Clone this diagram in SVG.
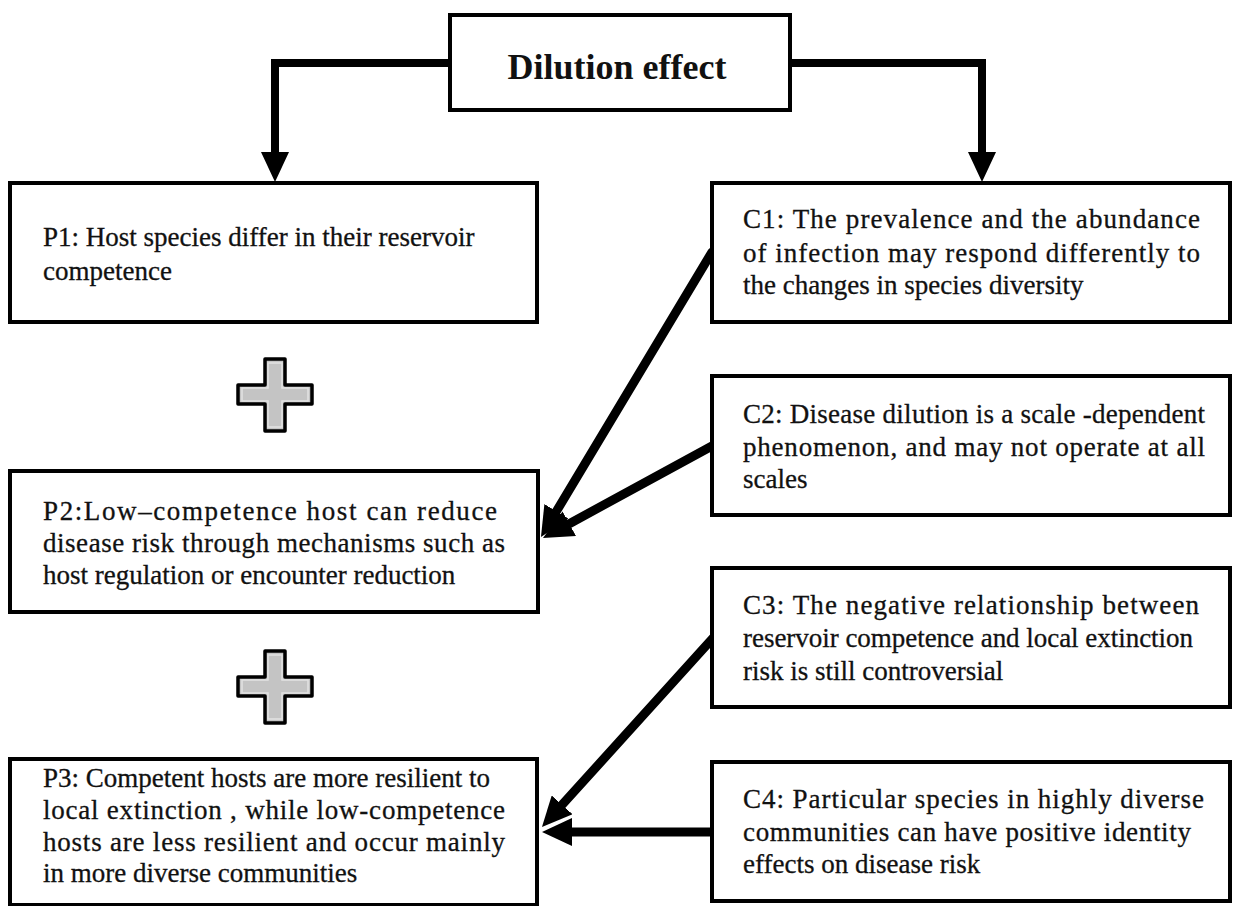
<svg xmlns="http://www.w3.org/2000/svg" width="1237" height="906" viewBox="0 0 1237 906">
<style>
.box{fill:#fff;stroke:#000;stroke-width:4}
.t{font-family:"Liberation Serif","Times New Roman",serif;font-size:27px;fill:#111;stroke:#111;stroke-width:0.3}
.title{font-family:"Liberation Serif","Times New Roman",serif;font-size:36px;font-weight:bold;fill:#111}
.conn{fill:none;stroke:#000;stroke-width:9;stroke-linecap:round;stroke-linejoin:miter}
.top{stroke-width:8}
.plus{fill:#c4c4c4;stroke:#000;stroke-width:3.5;stroke-linejoin:round}
.plusin{fill:none;stroke:#e2e2e2;stroke-width:1.5}
</style>
<defs>
<marker id="ah" viewBox="0 0 30 28" refX="0" refY="14" markerWidth="30" markerHeight="28" orient="auto" markerUnits="userSpaceOnUse">
<path d="M0,0 L30,14 L0,28 Z" fill="#000"/>
</marker>
</defs>
<rect width="1237" height="906" fill="#fff"/>
<g id="connectors">
<polyline class="conn top" points="450,63 275,63 275,152" marker-end="url(#ah)"/>
<polyline class="conn top" points="790,63 982,63 982,152" marker-end="url(#ah)"/>
<line class="conn" x1="712" y1="252" x2="556.4" y2="511.3" marker-end="url(#ah)"/>
<line class="conn" x1="712" y1="446" x2="569.3" y2="523.7" marker-end="url(#ah)"/>
<line class="conn" x1="713" y1="638" x2="562.1" y2="804.8" marker-end="url(#ah)"/>
<line class="conn" x1="713" y1="832" x2="572" y2="832" marker-end="url(#ah)"/>
</g>
<g id="dilution">
<rect class="box" x="450" y="15" width="340" height="95"/>
<text class="title" x="617" y="79" text-anchor="middle">Dilution effect</text>
</g>
<g id="p1">
<rect class="box" x="10" y="183" width="527" height="139"/>
<text class="t" x="43" y="246">P1: Host species differ in their reservoir</text>
<text class="t" x="43" y="280">competence</text>
</g>
<g id="plus1">
<path class="plus" d="M265,359 H285 V385 H312 V404 H285 V431 H265 V404 H238 V385 H265 Z"/>
<path class="plusin" d="M268,363 H282 V388 H308 V401 H282 V427 H268 V401 H242 V388 H268 Z"/>
</g>
<g id="p2">
<rect class="box" x="10" y="471" width="528" height="141"/>
<text class="t" x="43" y="520" textLength="454" lengthAdjust="spacing">P2:Low–competence host can reduce</text>
<text class="t" x="43" y="552" textLength="462" lengthAdjust="spacing">disease risk through mechanisms such as</text>
<text class="t" x="43" y="584">host regulation or encounter reduction</text>
</g>
<g id="plus2">
<path class="plus" d="M265,651 H285 V677 H312 V696 H285 V723 H265 V696 H238 V677 H265 Z"/>
<path class="plusin" d="M268,655 H282 V680 H308 V693 H282 V719 H268 V693 H242 V680 H268 Z"/>
</g>
<g id="p3">
<rect class="box" x="10" y="759" width="527" height="146"/>
<text class="t" x="43" y="787" textLength="447" lengthAdjust="spacing">P3: Competent hosts are more resilient to</text>
<text class="t" x="43" y="819" textLength="462" lengthAdjust="spacing">local extinction , while low-competence</text>
<text class="t" x="43" y="851" textLength="462" lengthAdjust="spacing">hosts are less resilient and occur mainly</text>
<text class="t" x="43" y="882">in more diverse communities</text>
</g>
<g id="c1">
<rect class="box" x="712" y="183" width="518" height="139"/>
<text class="t" x="743" y="228" textLength="457" lengthAdjust="spacing">C1:  The prevalence and the abundance</text>
<text class="t" x="743" y="262" textLength="457" lengthAdjust="spacing">of infection may respond differently to</text>
<text class="t" x="743" y="294">the changes in species diversity</text>
</g>
<g id="c2">
<rect class="box" x="712" y="376" width="518" height="139"/>
<text class="t" x="743" y="423" textLength="462" lengthAdjust="spacing">C2: Disease dilution is a scale -dependent</text>
<text class="t" x="743" y="456" textLength="462" lengthAdjust="spacing">phenomenon, and may not operate at  all</text>
<text class="t" x="743" y="488">scales</text>
</g>
<g id="c3">
<rect class="box" x="712" y="568" width="518" height="139"/>
<text class="t" x="743" y="614" textLength="456" lengthAdjust="spacing">C3: The negative relationship between</text>
<text class="t" x="743" y="647" textLength="450" lengthAdjust="spacing">reservoir competence and local extinction</text>
<text class="t" x="743" y="680">risk is still controversial</text>
</g>
<g id="c4">
<rect class="box" x="712" y="762" width="518" height="139"/>
<text class="t" x="743" y="808" textLength="461" lengthAdjust="spacing">C4: Particular species in highly diverse</text>
<text class="t" x="743" y="841" textLength="448" lengthAdjust="spacing">communities can have positive identity</text>
<text class="t" x="743" y="873">effects on disease risk</text>
</g>
</svg>
